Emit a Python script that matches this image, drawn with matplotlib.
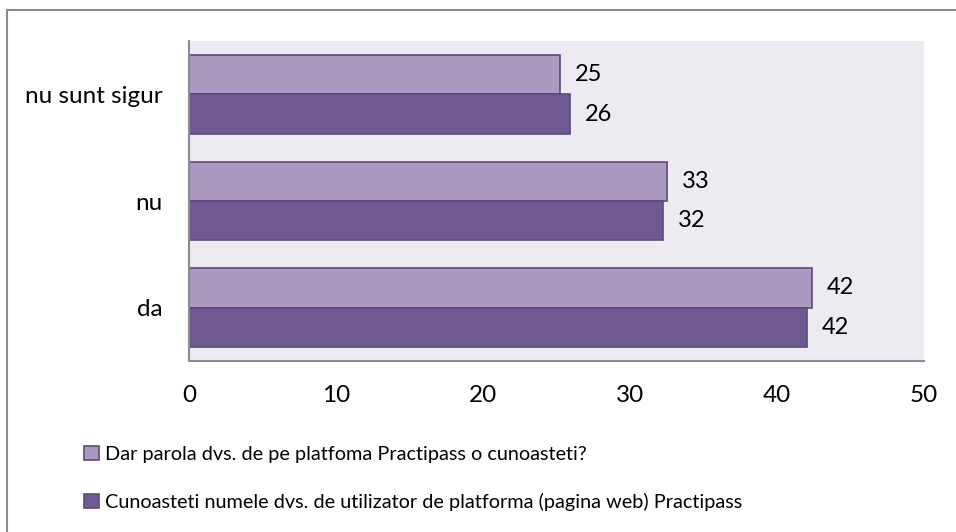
import numpy as np
import matplotlib.pyplot as plt
from matplotlib.lines import Line2D

categories = ['da', 'nu', 'nu sunt sigur']
parola = [42.37, 32.54, 25.24]
utilizator = [42.07, 32.24, 25.92]
labels = ['Dar parola dvs. de pe platfoma Practipass o cunoasteti?',
          'Cunoasteti numele dvs. de utilizator de platforma (pagina web) Practipass']

light = '#AA9ABF'
dark = '#705990'
edge = '#5E4A7E'
bg = '#EDEBF1'

plt.rcParams['font.family'] = ['Lato', 'DejaVu Sans']

fig = plt.figure(figsize=(9.56, 5.32), dpi=100)
ax = fig.add_axes([189 / 956, 1 - 361 / 532, 735 / 956, 320 / 532])
ax.set_facecolor(bg)

y = np.arange(len(categories))
h = 0.37
b1 = ax.barh(y + h / 2, parola, h, color=light, edgecolor=edge, linewidth=1.2, label=labels[0])
b2 = ax.barh(y - h / 2, utilizator, h, color=dark, edgecolor=edge, linewidth=1.2, label=labels[1])

for bars, vals in ((b1, parola), (b2, utilizator)):
    for rect, v in zip(bars, vals):
        ax.text(v + 1.0, rect.get_y() + rect.get_height() / 2, '%d' % round(v),
                va='center', ha='left', fontsize=17)

ax.set_xlim(0, 50)
ax.set_ylim(-0.5, 2.5)
ax.set_xticks(range(0, 51, 10))
ax.set_yticks(y)
ax.set_yticklabels(categories)
ax.tick_params(axis='both', length=0, labelsize=17.5)
ax.tick_params(axis='x', pad=17)
ax.tick_params(axis='y', pad=19)
for s in ('top', 'right'):
    ax.spines[s].set_visible(False)
for s in ('left', 'bottom'):
    ax.spines[s].set_color('#8C8C8C')
    ax.spines[s].set_linewidth(1.5)

fig.legend(handles=[b1, b2], loc='upper left', bbox_to_anchor=(76 / 956, 1 - 438 / 532),
           frameon=False, fontsize=14.3, handlelength=0.75, handleheight=0.75,
           handletextpad=0.3, labelspacing=1.5, borderaxespad=0)

# outer chart border (only left and top visible in the crop)
fig.add_artist(Line2D([7 / 956, 7 / 956], [0, 1 - 10 / 532], color='#8C8C8C', lw=1.5))
fig.add_artist(Line2D([7 / 956, 1], [1 - 10 / 532, 1 - 10 / 532], color='#8C8C8C', lw=1.5))

fig.savefig('out.png', dpi=100)
